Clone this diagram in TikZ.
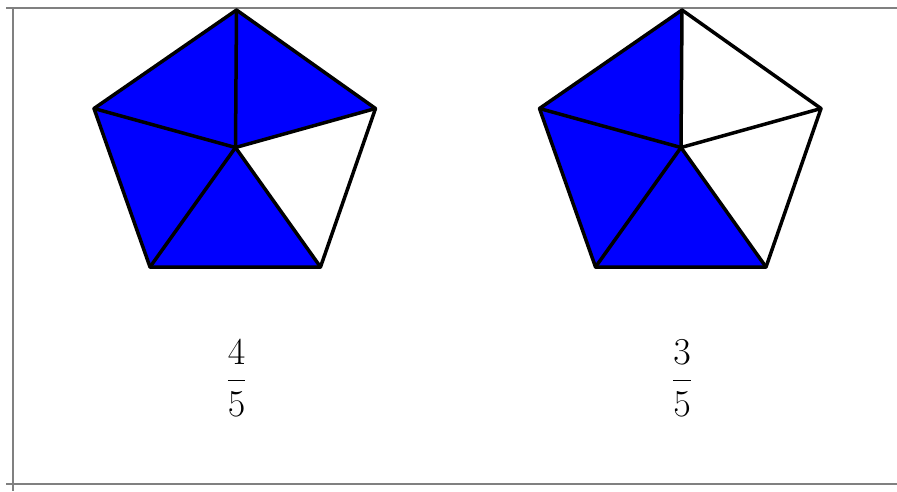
\documentclass[tikz,border=0pt]{standalone}
\usepackage{fix-cm}
\usepackage{amsmath,amssymb}
\usepackage{tikz}

\begin{document}
\begin{tikzpicture}[x=1pt, y=-1pt,
	every node/.style={font=\fontsize{38}{42}\selectfont},
	edge/.style={draw=black, line width=3.5pt, line join=round, line cap=round},
	rule/.style={draw=black!50, line width=2.5pt}]
	\useasboundingbox (0,0) rectangle (897,491);
	% table rules
	\coordinate (tl) at (6,8);
	\coordinate (tr) at (897,8);
	\coordinate (bl) at (6,484);
	\coordinate (br) at (897,484);
	\coordinate (vt) at (13,8);
	\coordinate (vb) at (13,491);
	\draw[rule] (tl) -- (tr);
	\draw[rule] (bl) -- (br);
	\draw[rule] (vt) -- (vb);
	% two pentagons, five sectors each
	\foreach \dx/\ctr/\num in {0/blue/4, 445.5/white/3} {
		\begin{scope}[xshift=\dx pt]
			\coordinate (A) at (236.5,10);
			\coordinate (L) at (94,108.5);
			\coordinate (R) at (375.5,108.5);
			\coordinate (BL) at (150,267);
			\coordinate (BR) at (320.5,267);
			\coordinate (C) at (235.5,147.5);
			\fill[blue] (A) -- (L) -- (C) -- cycle;
			\fill[\ctr] (A) -- (R) -- (C) -- cycle;
			\fill[white] (R) -- (BR) -- (C) -- cycle;
			\fill[blue] (BR) -- (BL) -- (C) -- cycle;
			\fill[blue] (BL) -- (L) -- (C) -- cycle;
			\draw[edge] (A) -- (R) -- (BR) -- (BL) -- (L) -- cycle;
			\foreach \v in {A,R,BR,BL,L}
				\draw[edge] (C) -- (\v);
			\node (frac\num) at (236.5,378) {$\displaystyle\frac{\num}{5}$};
		\end{scope}
	}
\end{tikzpicture}
\end{document}
